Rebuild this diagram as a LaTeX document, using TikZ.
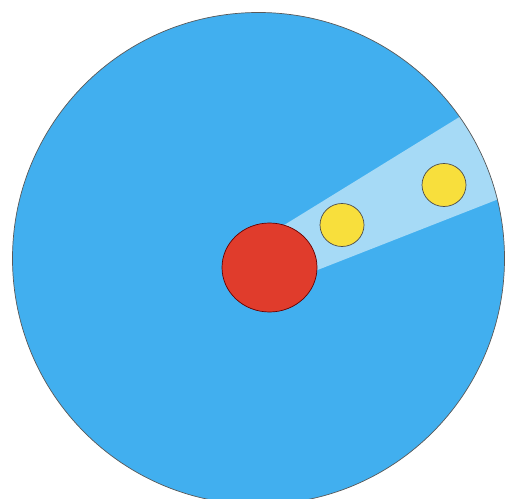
\documentclass[tikz,border=0pt]{standalone}

\definecolor{sky}{HTML}{41AFEF}
\definecolor{beam}{HTML}{A6DAF6}
\definecolor{core}{HTML}{E03C2C}
\definecolor{ball}{HTML}{F8DF3C}

\begin{document}
\begin{tikzpicture}[x=0.02cm,y=-0.02cm]

\useasboundingbox (0,0) rectangle (506,499);

\coordinate (centre) at (258.5,258.5);

\fill[sky] (centre) circle (246);

\begin{scope}
    \clip (centre) circle (246);
    \fill[beam] (268,235) -- (560,55) -- (560,175) -- (292,280) -- cycle;
\end{scope}

\draw[gray!70!black,thin] (centre) circle (246);

\filldraw[fill=core,draw=red!40!black,thin] (269.5,267.5) ellipse (47.5 and 44.5);

\foreach \x/\y in {342/225,444/185}{
    \filldraw[fill=ball,draw=black!70,thin] (\x,\y) ellipse (22 and 21.5);
}

\end{tikzpicture}
\end{document}
